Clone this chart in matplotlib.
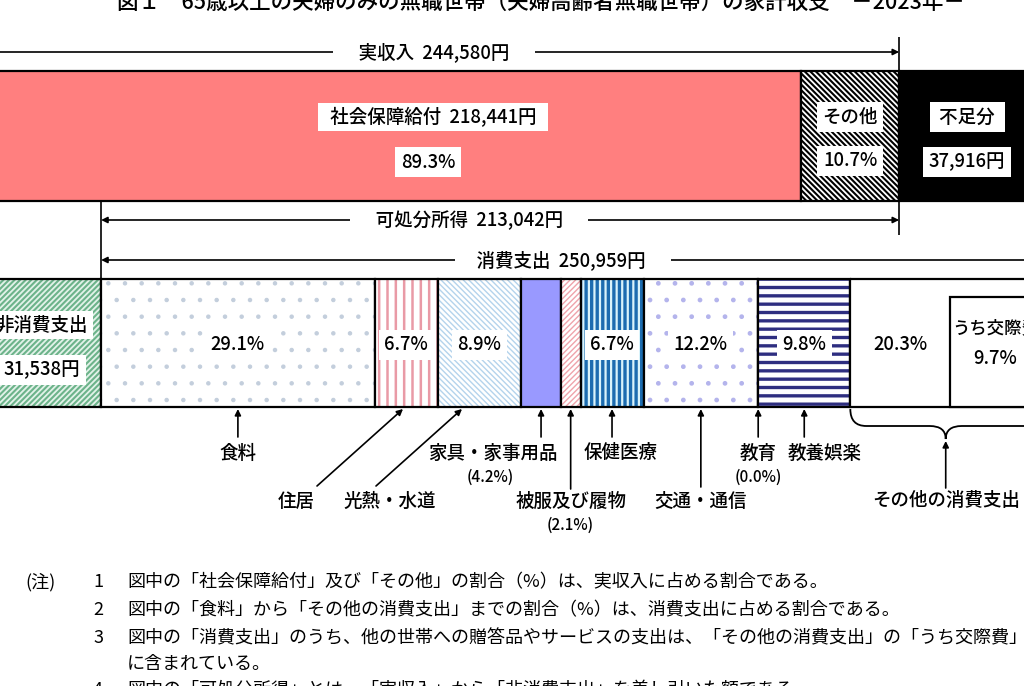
import matplotlib.pyplot as plt
import numpy as np
from matplotlib.path import Path
from matplotlib.patches import PathPatch

plt.rcParams['font.family'] = ['Noto Sans CJK JP', 'DejaVu Sans']
plt.rcParams['hatch.linewidth'] = 1.6

#-----------------------------------------------------------------------------------------------------------------------
# Data (yen per month, shares in %)
title = '図１　65歳以上の夫婦のみの無職世帯（夫婦高齢者無職世帯）の家計収支　－2023年－'

income_labels = ['社会保障給付', 'その他']
income_values = [218441, 26139]
income_shares = [89.3, 10.7]
actual_income = 244580
deficit = 37916

non_consumption = 31538
disposable_income = 213042
consumption = 250959

cons_labels = ['食料', '住居', '光熱・水道', '家具・家事用品', '被服及び履物',
               '保健医療', '交通・通信', '教育', '教養娯楽', 'その他の消費支出']
cons_shares = [29.1, 6.7, 8.9, 4.2, 2.1, 6.7, 12.2, 0.0, 9.8, 20.3]
cons_inner = [True, True, True, False, False, True, True, False, True, True]
kosai_share = 9.7

notes = ['図中の「社会保障給付」及び「その他」の割合（%）は、実収入に占める割合である。',
         '図中の「食料」から「その他の消費支出」までの割合（%）は、消費支出に占める割合である。',
         '図中の「消費支出」のうち、他の世帯への贈答品やサービスの支出は、「その他の消費支出」の「うち交際費」',
         'に含まれている。',
         '図中の「可処分所得」とは、「実収入」から「非消費支出」を差し引いた額である。']
note_numbers = ['1', '2', '3', '', '4']

#-----------------------------------------------------------------------------------------------------------------------
# Layout: x axis in yen, y axis in pixels (top down)
origin_px = -17
yen_per_px = consumption / 940


def px(p):
    return (p - origin_px) * yen_per_px


fig = plt.figure(figsize=(10.24, 6.86), dpi=100)
ax = fig.add_axes([0, 0, 1, 1])
ax.set_xlim(px(0), px(1024))
ax.set_ylim(686, 0)
ax.axis('off')

fs = 13.3
weight = 'medium'


def label(x, y, s, size=fs, box=True, pad=2.5, **kw):
    bbox = dict(facecolor='white', edgecolor='none', pad=pad) if box else None
    ax.text(x, y, s, ha=kw.pop('ha', 'center'), va='center', fontsize=size,
            fontweight=weight, bbox=bbox, zorder=6, **kw)


def segment(y, width, left, height, fc, hatch=None, hc='black', hlw=None):
    bars = ax.barh(y, width, left=left, height=height, color=fc, edgecolor=hc,
                   hatch=hatch, linewidth=0)
    if hlw is not None:
        for p in bars.patches:
            if hasattr(p, 'set_hatch_linewidth'):
                p.set_hatch_linewidth(hlw)
    ax.barh(y, width, left=left, height=height, fill=False, edgecolor='black', linewidth=1.6)
    return bars


def arrow(x0, y0, x1, y1, style='-|>'):
    ax.annotate('', xy=(x1, y1), xytext=(x0, y0), annotation_clip=False,
                arrowprops=dict(arrowstyle=style, color='black', lw=1.2,
                                mutation_scale=9, shrinkA=0, shrinkB=0), zorder=4)


# Title (cut by the top edge)
ax.text(px(541), 3, title, ha='center', va='center', fontsize=15.5, fontweight=weight)

#-----------------------------------------------------------------------------------------------------------------------
# Income bar
top_y, top_h = 136, 130
segment(top_y, income_values[0], 0, top_h, '#ff7f7f')
segment(top_y, income_values[1], income_values[0], top_h, 'white', '\\' * 6, 'black', 1.5)
segment(top_y, deficit, actual_income, top_h, 'black')

label(px(433), 117, '  %s  %s円  ' % (income_labels[0], format(income_values[0], ',')))
label(px(428), 162, '%.1f%%' % income_shares[0], pad=4)
mid_other = income_values[0] + income_values[1] / 2
label(mid_other, 117, income_labels[1], pad=4)
label(mid_other, 161, '%.1f%%' % income_shares[1], pad=4)
mid_def = actual_income + deficit / 2
label(mid_def - 3 * yen_per_px, 117, ' 不足分 ', pad=4)
label(mid_def - 3 * yen_per_px, 162, '%s円' % format(deficit, ','), pad=4)

# Dimension lines
ax.vlines(actual_income, 37, 235, color='black', lw=1.2)
ax.vlines(non_consumption, 201, 279, color='black', lw=1.2)

arrow(0, 52, actual_income, 52, '<|-|>')
label(px(434), 52, '\u3000 実収入  %s円 \u3000' % format(actual_income, ','), pad=2)

arrow(non_consumption, 220, actual_income, 220, '<|-|>')
label(px(469), 220, '\u3000 可処分所得  %s円 \u3000' % format(disposable_income, ','), pad=2)

arrow(non_consumption, 260, non_consumption + consumption, 260, '<|-|>')
label(px(563), 260, '\u3000消費支出  %s円 \u3000' % format(consumption, ','), pad=2)

#-----------------------------------------------------------------------------------------------------------------------
# Expenditure bar
low_y, low_h = 343, 128
segment(low_y, non_consumption, 0, low_h, '#e2f2e9', '/' * 6, '#6cb38a', 1.5)
label(non_consumption / 2, 325, '非消費支出', pad=3)
label(non_consumption / 2, 370, '%s円' % format(non_consumption, ','), pad=4)

# facecolor, hatch, hatch colour, hatch linewidth
cons_styles = [('white', '.', '#c3cedc', 0.8),
               ('white', '||', '#e99aa6', 1.8),
               ('white', '\\' * 6, '#b4d3ec', 1.0),
               ('#9999ff', None, 'black', None),
               ('white', '/' * 6, '#efa3ab', 1.0),
               ('#d9f3fb', '|||', '#1c6cb0', 2.4),
               ('white', '.', '#b4b4ec', 1.0),
               ('white', None, 'black', None),
               ('white', '--', '#2e2e80', 2.4),
               ('white', None, 'black', None)]

cons_values = np.array(cons_shares) / 100 * consumption
cons_lefts = non_consumption + np.concatenate([[0], np.cumsum(cons_values)[:-1]])
cons_mids = cons_lefts + cons_values / 2

for val, left, (fc, hatch, hc, hlw) in zip(cons_values, cons_lefts, cons_styles):
    segment(low_y, val, left, low_h, fc, hatch, hc, hlw)

# "うち交際費" box at the right end of the other expenditure
kosai_value = kosai_share / 100 * consumption
kosai_left = non_consumption + consumption - kosai_value
ax.barh(352, kosai_value, left=kosai_left, height=110, color='white',
        edgecolor='black', linewidth=1.6, zorder=3)
label(kosai_left + kosai_value / 2, 328, 'うち交際費', box=False, size=12.5)
label(kosai_left + kosai_value / 2, 358, '%.1f%%' % kosai_share, box=False)

for i, (share, inner) in enumerate(zip(cons_shares, cons_inner)):
    if not inner:
        continue
    x = cons_mids[i]
    if i == len(cons_shares) - 1:
        x = (cons_lefts[i] + kosai_left) / 2
    label(x, 345, '%.1f%%' % share, pad=4)

# Category labels and arrows below the bar
# (label x px or None for centre, label y, tail x px or None, tail y, head x px or None)
note_layout = [(None, 453, None, 437, None),
               (296, 501, 317, 486, 403),
               (390, 501, 376, 486, 462),
               (493, 453, None, 437, None),
               (None, 501, None, 489, None),
               (621, 453, None, 437, None),
               (None, 501, None, 487, None),
               (None, 453, None, 437, None),
               (825, 453, None, 437, None),
               (None, 501, None, 488, None)]

for i, (name, layout) in enumerate(zip(cons_labels, note_layout)):
    lx, ly, tx, ty, hx = layout
    lx = cons_mids[i] if lx is None else px(lx)
    tx = cons_mids[i] if tx is None else px(tx)
    hx = cons_mids[i] if hx is None else px(hx)
    head_y = 409
    if i == len(cons_labels) - 1:
        head_y = 441
    arrow(tx, ty, hx, head_y)
    label(lx, ly, name, box=False)
    if not cons_inner[i]:
        label(lx - (3 * yen_per_px if i == 3 else 0), ly + 24,
              '(%.1f%%)' % cons_shares[i], box=False, size=11)

# Brace under the other expenditure
L = cons_lefts[-1]
R = cons_lefts[-1] + cons_values[-1]
M = (L + R) / 2
d = 16 * yen_per_px
verts = [(L, 409), (L, 426), (L + d, 426), (M - d, 426), (M, 426), (M, 439),
         (M, 426), (M + d, 426), (R - d, 426), (R, 426), (R, 409)]
codes = [Path.MOVETO, Path.CURVE3, Path.CURVE3, Path.LINETO, Path.CURVE3, Path.CURVE3,
         Path.CURVE3, Path.CURVE3, Path.LINETO, Path.CURVE3, Path.CURVE3]
ax.add_patch(PathPatch(Path(verts, codes), fill=False, lw=1.3, edgecolor='black'))

#-----------------------------------------------------------------------------------------------------------------------
# Notes
note_fs = 13.0
ax.text(px(25), 582, '(注)', ha='left', va='center', fontsize=note_fs)
for k, (num, line) in enumerate(zip(note_numbers, notes)):
    y = [582, 610, 638, 664, 690][k]
    if num:
        ax.text(px(98), y, num, ha='center', va='center', fontsize=note_fs)
    ax.text(px(127), y, line, ha='left', va='center', fontsize=note_fs)

plt.savefig('out.png', dpi=100)
plt.close()
